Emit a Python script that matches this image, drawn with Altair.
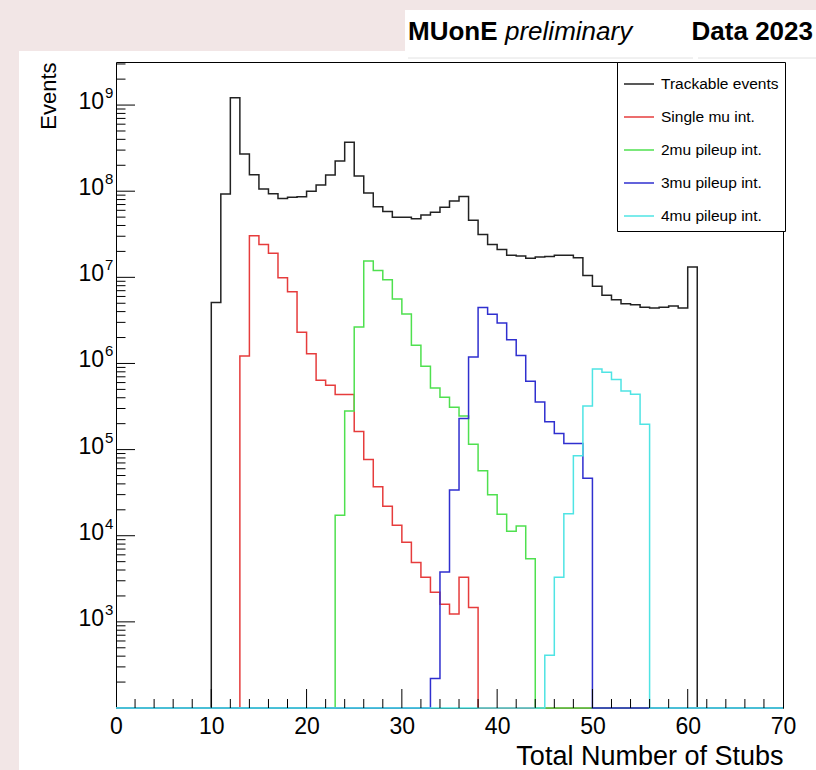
import altair as alt
import pandas as pd

# ---------------- data ----------------
n_bins = 70
y_floor = 100  # zero bins are drawn on the lower frame (ROOT style)

series_names = ["Trackable events", "Single mu int.", "2mu pileup int.",
                "3mu pileup int.", "4mu pileup int."]
series_colors = ["#222222", "#e63c3c", "#4fe04f", "#2f2fcf", "#4fe4e4"]

black_start = 10
black_values = [5.1e6, 9.3e7, 1.22e9, 2.7e8, 1.55e8, 1.06e8, 9.35e7, 8.2e7, 8.5e7, 8.6e7,
                1.0e8, 1.18e8, 1.54e8, 2.24e8, 3.7e8, 1.5e8, 9.5e7, 6.6e7, 5.8e7, 5.0e7,
                4.97e7, 4.8e7, 5.3e7, 5.7e7, 6.5e7, 7.7e7, 8.7e7, 4.6e7, 3.15e7, 2.4e7,
                2.1e7, 1.8e7, 1.77e7, 1.67e7, 1.72e7, 1.74e7, 1.8e7, 1.8e7, 1.69e7, 1.05e7,
                7.9e6, 6.2e6, 5.5e6, 4.95e6, 4.8e6, 4.5e6, 4.4e6, 4.5e6, 4.65e6, 4.4e6,
                1.32e7]

red_start = 13
red_values = [1.22e6, 3.04e7, 2.4e7, 1.9e7, 9.9e6, 6.8e6, 2.3e6, 1.3e6, 6.4e5, 5.6e5,
              4.35e5, 4.35e5, 1.62e5, 7.7e4, 3.7e4, 2.2e4, 1.32e4, 8.4e3, 4.9e3, 3.3e3,
              2.2e3, 1.6e3, 1.23e3, 3.3e3, 1.47e3]

green_start = 23
green_values = [1.73e4, 2.8e5, 2.65e6, 1.55e7, 1.2e7, 9.4e6, 5.6e6, 3.76e6, 1.63e6, 9.3e5,
                5.2e5, 4.06e5, 3.1e5, 2.46e5, 1.15e5, 5.7e4, 3.0e4, 1.78e4, 1.13e4, 1.3e4,
                5.4e3]

blue_start = 33
blue_values = [2.2e2, 3.8e3, 3.4e4, 2.3e5, 1.19e6, 4.45e6, 3.72e6, 2.95e6, 1.89e6, 1.24e6,
               6.2e5, 3.57e5, 2.1e5, 1.54e5, 1.18e5, 1.18e5, 4.65e4]

cyan_start = 45
cyan_values = [4.1e2, 3.3e3, 1.8e4, 8.5e4, 3.2e5, 8.6e5, 7.9e5, 6.5e5, 4.8e5, 4.4e5,
               1.97e5]

x_label_values = [0, 10, 20, 30, 40, 50, 60, 70]
x_minor_ticks = [2, 4, 6, 8, 12, 14, 16, 18, 22, 24, 26, 28, 32, 34, 36, 38,
                 42, 44, 46, 48, 52, 54, 56, 58, 62, 64, 66, 68]
y_label_exponents = [3, 4, 5, 6, 7, 8, 9]
y_top = 10 ** 9.5

# ---------------- tables ----------------
starts = [black_start, red_start, green_start, blue_start, cyan_start]
values = [black_values, red_values, green_values, blue_values, cyan_values]
rows = []
for name, start, vals in zip(series_names, starts, values):
    full = [y_floor] * n_bins
    for i, v in enumerate(vals):
        full[start + i] = v
    for x in range(n_bins + 1):
        rows.append({"series": name, "x": x, "v": full[min(x, n_bins - 1)]})
hist_df = pd.DataFrame(rows)

y_major = pd.DataFrame({"v": [10 ** e for e in y_label_exponents]})
y_minor = pd.DataFrame({"v": [k * 10 ** e for e in range(2, 10) for k in range(2, 10)
                              if k * 10 ** e < y_top]})
x_major = pd.DataFrame({"x": x_label_values[1:-1]})
x_minor = pd.DataFrame({"x": x_minor_ticks})
y_lab = pd.DataFrame({"v": [10 ** e for e in y_label_exponents],
                      "base": ["10"] * len(y_label_exponents),
                      "exp": [str(e) for e in y_label_exponents]})
one = pd.DataFrame({"a": [0]})

# ---------------- layout ----------------
W, H = 667, 646
PL, PT = 116, 62
FONT = "Liberation Sans"

xs = alt.Scale(domain=[0, 70], nice=False, zero=False)
ys = alt.Scale(type="log", domain=[y_floor, y_top], nice=False)

color = alt.Color(
    "series:N",
    scale=alt.Scale(domain=series_names, range=series_colors),
    legend=alt.Legend(
        title=None, orient="none", legendX=501, legendY=0,
        direction="vertical",
        strokeColor="black", fillColor="white", padding=6,
        symbolType="stroke", symbolSize=900, symbolStrokeWidth=1.5,
        labelFont=FONT, labelFontSize=15.5, labelColor="black",
        labelOffset=6, rowPadding=8,
    ),
)

# decorative page background pieces (outside the plot area)
pink = "#f2e6e6"
left_band = alt.Chart(one).mark_rect(color=pink).encode(
    x=alt.value(-PL), x2=alt.value(-97), y=alt.value(-PT), y2=alt.value(H + 62))
top_band = alt.Chart(one).mark_rect(color=pink).encode(
    x=alt.value(-PL), x2=alt.value(700), y=alt.value(-PT), y2=alt.value(-11))
title_box = alt.Chart(one).mark_rect(color="white").encode(
    x=alt.value(289), x2=alt.value(700), y=alt.value(-52), y2=alt.value(-4))
title_line1 = alt.Chart(one).mark_rule(color="#e2e2e2", strokeWidth=1).encode(
    x=alt.value(292), x2=alt.value(577), y=alt.value(-4))
title_line2 = alt.Chart(one).mark_rule(color="#e2e2e2", strokeWidth=1).encode(
    x=alt.value(582), x2=alt.value(700), y=alt.value(-4))

x_axis = alt.Axis(
    values=x_label_values, ticks=False, domain=False, grid=False,
    labelFont=FONT, labelFontSize=23, labelColor="black", labelPadding=7,
    labelFlush=False,
    title="Total Number of Stubs", titleFont=FONT, titleFontSize=27,
    titleFontWeight="normal", titleColor="black", titleAnchor="end",
    titlePadding=5)
y_axis = alt.Axis(
    labels=False, ticks=False, domain=False, grid=False,
    title="Events", titleFont=FONT, titleFontSize=22, titleFontWeight="normal",
    titleColor="black", titleAnchor="end", titlePadding=56)

hist_layers = []
for i, name in enumerate(series_names):
    if i == 0:
        xenc = alt.X("x:Q", scale=xs, axis=x_axis, title="Total Number of Stubs")
        yenc = alt.Y("v:Q", scale=ys, axis=y_axis, title="Events")
    else:
        xenc = alt.X("x:Q", scale=xs, title="Total Number of Stubs")
        yenc = alt.Y("v:Q", scale=ys, title="Events")
    hist_layers.append(
        alt.Chart(hist_df).transform_filter(alt.datum.series == name)
        .mark_line(interpolate="step-after", strokeWidth=1.5)
        .encode(x=xenc, y=yenc, color=color)
    )

def yq():
    return alt.Y("v:Q", scale=ys, title="Events")

def xq():
    return alt.X("x:Q", scale=xs, title="Total Number of Stubs")

# inward ticks
tick_layers = [
    alt.Chart(y_major).mark_rule(color="black", strokeWidth=1).encode(
        y=yq(), x=alt.value(0), x2=alt.value(19)),
    alt.Chart(y_minor).mark_rule(color="black", strokeWidth=1).encode(
        y=yq(), x=alt.value(0), x2=alt.value(9.5)),
    alt.Chart(x_major).mark_rule(color="black", strokeWidth=1).encode(
        x=xq(), y=alt.value(H), y2=alt.value(H - 19)),
    alt.Chart(x_minor).mark_rule(color="black", strokeWidth=1).encode(
        x=xq(), y=alt.value(H), y2=alt.value(H - 9)),
]

# y labels 10^n
label_layers = [
    alt.Chart(y_lab).mark_text(font=FONT, fontSize=23, align="right", baseline="middle",
                               color="black", dy=-3).encode(
        y=yq(), x=alt.value(-12), text="base:N"),
    alt.Chart(y_lab).mark_text(font=FONT, fontSize=15, align="left", baseline="middle",
                               color="black", dy=-12).encode(
        y=yq(), x=alt.value(-11), text="exp:N"),
]

# header texts
header_layers = [
    alt.Chart(one).mark_text(text="MUonE", font=FONT, fontSize=26, fontWeight="bold",
                             align="left", baseline="alphabetic", color="black").encode(
        x=alt.value(292), y=alt.value(-22)),
    alt.Chart(one).mark_text(text="preliminary", font=FONT, fontSize=26, fontStyle="italic",
                             align="left", baseline="alphabetic", color="black").encode(
        x=alt.value(389), y=alt.value(-22)),
    alt.Chart(one).mark_text(text="Data 2023", font=FONT, fontSize=26, fontWeight="bold",
                             align="right", baseline="alphabetic", color="black").encode(
        x=alt.value(697), y=alt.value(-22)),
]

chart = alt.layer(
    left_band, top_band, title_box, title_line1, title_line2,
    *hist_layers, *tick_layers, *label_layers, *header_layers
).properties(
    width=W, height=H,
    padding={"left": PL, "top": PT, "right": 816 - PL - W, "bottom": 770 - PT - H},
    autosize="none",
    background="white",
).configure_view(stroke="black", strokeWidth=1)

chart.save("out.html", embed_options={"renderer": "svg", "actions": False})
